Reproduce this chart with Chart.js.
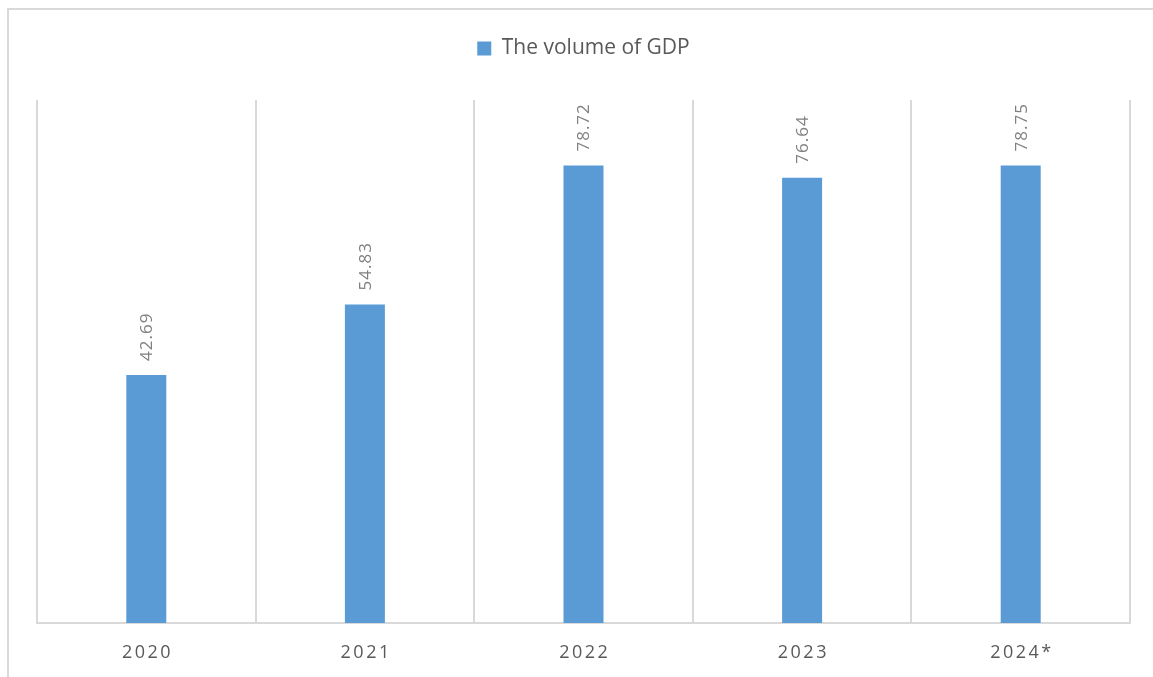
<!DOCTYPE html>
<html>
<head>
<meta charset="utf-8">
<script src="https://cdn.jsdelivr.net/npm/chart.js@4.4.1/dist/chart.umd.min.js"></script>
<style>
  html, body { margin: 0; padding: 0; background: #ffffff; }
  #wrap { position: relative; width: 1153px; height: 677px; overflow: hidden; }
  #frame { position: absolute; left: 7px; top: 8px; width: 1200px; height: 700px;
           border-left: 2px solid #d9d9d9; border-top: 2px solid #d9d9d9; box-sizing: border-box; }
  canvas { position: absolute; left: 0; top: 0; }
</style>
</head>
<body>
<div id="wrap">
  <div id="frame"></div>
  <canvas id="c" width="1153" height="677"></canvas>
</div>
<script>
const categories = ['2020', '2021', '2022', '2023', '2024*'];
const gdpValues = [42.69, 54.83, 78.72, 76.64, 78.75];
const seriesName = 'The volume of GDP';
const yMin = 0;
const yMax = 90;

const FONT = "'Open Sans', 'DejaVu Sans', sans-serif";

const legendGap = {
  id: 'legendGap',
  beforeInit(chart) {
    const fit = chart.legend.fit;
    chart.legend.fit = function () {
      fit.bind(chart.legend)();
      this.height += 31;
    };
  }
};

const labelsPlugin = {
  id: 'valueLabels',
  afterDatasetsDraw(chart) {
    const ctx = chart.ctx;
    const meta = chart.getDatasetMeta(0);
    ctx.save();
    ctx.font = "17px " + FONT;
    ctx.fillStyle = '#808080';
    ctx.letterSpacing = '1px';
    ctx.textAlign = 'left';
    ctx.textBaseline = 'middle';
    meta.data.forEach((bar, i) => {
      ctx.save();
      ctx.translate(bar.x, bar.y - 14);
      ctx.rotate(-Math.PI / 2);
      ctx.fillText(gdpValues[i].toFixed(2), 0, 1);
      ctx.restore();
    });
    ctx.restore();
  },
  afterDraw(chart) {
    const ctx = chart.ctx;
    const xs = chart.scales.x;
    ctx.save();
    ctx.font = "18px " + FONT;
    ctx.fillStyle = '#595959';
    ctx.letterSpacing = '2.5px';
    ctx.textAlign = 'center';
    ctx.textBaseline = 'middle';
    categories.forEach((c, i) => {
      ctx.fillText(c, xs.getPixelForTick(i) + 1.25, chart.chartArea.bottom + 30);
    });
    ctx.restore();
  }
};

new Chart(document.getElementById('c'), {
  type: 'bar',
  data: {
    labels: categories,
    datasets: [{
      label: seriesName,
      data: gdpValues,
      backgroundColor: '#5b9bd5',
      borderWidth: 0,
      barPercentage: 0.183,
      categoryPercentage: 1.0
    }]
  },
  options: {
    responsive: false,
    animation: false,
    devicePixelRatio: 1,
    layout: { padding: { left: 37, right: 23, top: 28, bottom: 54 } },
    scales: {
      x: {
        offset: true,
        grid: { display: true, offset: true, color: '#d9d9d9', lineWidth: 2, drawTicks: false },
        border: { display: true, color: '#d9d9d9', width: 2 },
        ticks: { display: false }
      },
      y: {
        display: false,
        min: yMin,
        max: yMax
      }
    },
    plugins: {
      legend: {
        position: 'top',
        labels: {
          boxWidth: 14,
          boxHeight: 14,
          padding: 10,
          color: '#595959',
          font: { family: FONT, size: 21 }
        }
      },
      tooltip: { enabled: false }
    }
  },
  plugins: [legendGap, labelsPlugin]
});
</script>
</body>
</html>
